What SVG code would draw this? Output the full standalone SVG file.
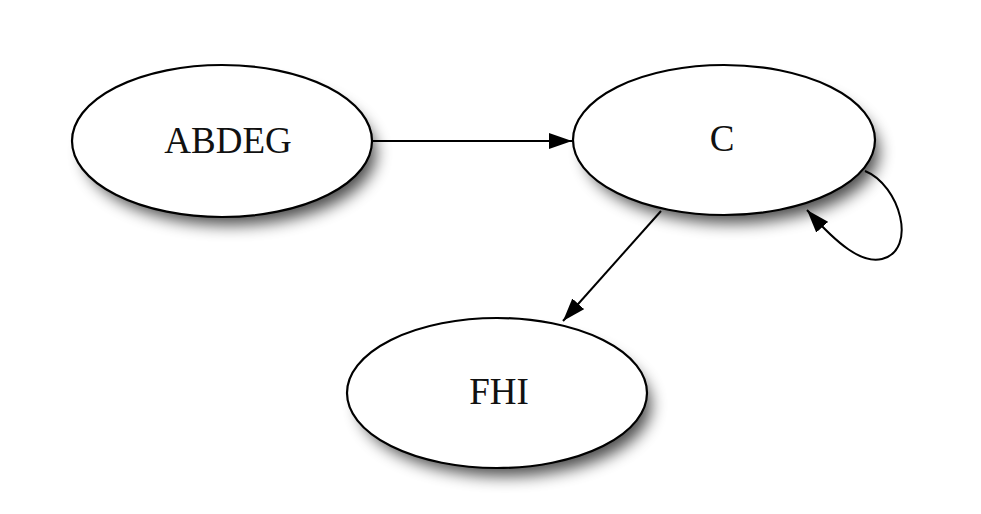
<svg xmlns="http://www.w3.org/2000/svg" width="981" height="514" viewBox="0 0 981 514">
<style>
.node ellipse.body{fill:#fff;stroke:#000;stroke-width:2.2}
.node ellipse.shadow{fill:#000;opacity:0.7;filter:url(#blur)}
.node text{font-family:"Liberation Serif","Times New Roman",serif;font-size:37px;text-anchor:middle;fill:#111}
.edge{fill:none;stroke:#000;stroke-width:2}
</style>
<defs>
<filter id="blur" x="-30%" y="-30%" width="160%" height="160%"><feGaussianBlur stdDeviation="8"/></filter>
<marker id="arr" markerWidth="24" markerHeight="16" refX="23" refY="8" orient="auto" markerUnits="userSpaceOnUse"><path d="M0,0 L23,8 L0,16 Z" fill="#000"/></marker>
</defs>
<rect width="981" height="514" fill="#fff"/>
<g id="node-ABDEG" class="node">
<ellipse class="shadow" cx="230" cy="153" rx="146" ry="72"/>
<ellipse class="body" cx="222" cy="141" rx="150" ry="76"/>
<text x="228" y="153">ABDEG</text>
</g>
<g id="node-C" class="node">
<ellipse class="shadow" cx="732" cy="152" rx="147" ry="71"/>
<ellipse class="body" cx="724" cy="140" rx="151" ry="75"/>
<text x="722" y="151">C</text>
</g>
<g id="node-FHI" class="node">
<ellipse class="shadow" cx="505" cy="405" rx="146" ry="71"/>
<ellipse class="body" cx="497" cy="393" rx="150" ry="75"/>
<text x="499" y="404">FHI</text>
</g>
<g id="connectors">
<path class="edge" d="M373,141 L572,141" marker-end="url(#arr)"/>
<path class="edge" d="M661,211 L563,321" marker-end="url(#arr)"/>
<path class="edge" d="M865,171 C900,185 918,250 882,259 C862,264 838,245 807,210" marker-end="url(#arr)"/>
</g>
</svg>
